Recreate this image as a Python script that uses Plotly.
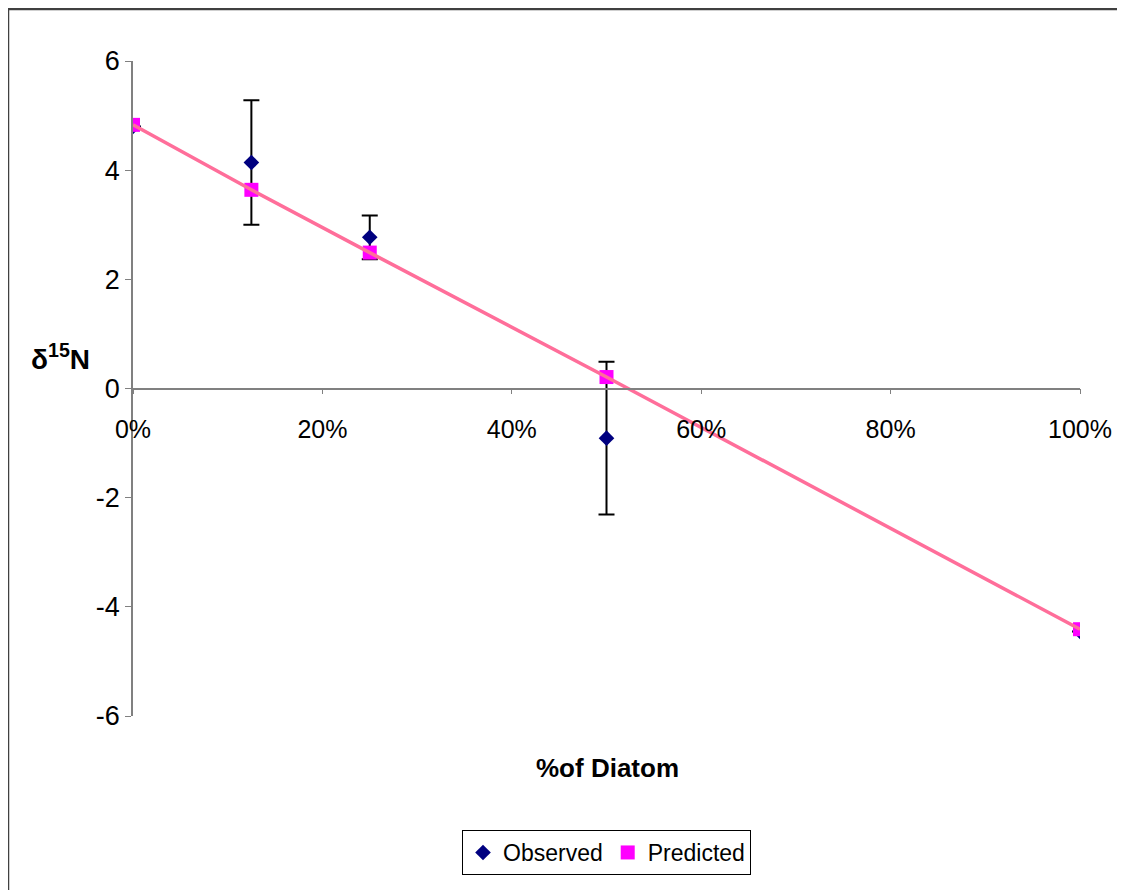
import plotly.graph_objects as go

# Data
diatom_frac = [0.0, 0.125, 0.25, 0.5, 1.0]
observed = [4.80, 4.14, 2.77, -0.91, -4.45]
observed_err = [0.0, 1.14, 0.40, 1.40, 0.0]
predicted = [4.83, 3.64, 2.49, 0.21, -4.41]
x_ticks = [0.0, 0.2, 0.4, 0.6, 0.8, 1.0]
y_ticks = [-6, -4, -2, 0, 2, 4, 6]
y_ticktext = ["-6", "-4", "-2", "0", "2", "4", "6"]

# page body has an 8px margin, so shift everything by 8px
OFF = 8
W, H = 1125 - OFF, 890 - OFF
L, R, T, B = 133 - OFF, 45, 61 - OFF, 174
pw, ph = W - L - R, H - T - B

def px_x(p):
    return (p - OFF - L) / pw

def px_y(p):
    return (H - B - (p - OFF)) / ph

FONT = "Liberation Sans, Arial, sans-serif"

fig = go.Figure()

fig.add_trace(go.Scatter(
    x=diatom_frac, y=observed, mode="markers", name="Observed",
    marker=dict(symbol="diamond", size=12, color="#000080"),
    error_y=dict(type="data", array=observed_err, visible=True,
                 color="black", thickness=2, width=8),
))
fig.add_trace(go.Scatter(
    x=diatom_frac, y=predicted, mode="markers", name="Predicted",
    marker=dict(symbol="square", size=14, color="#FF00FF"),
))
fig.add_trace(go.Scatter(
    x=diatom_frac, y=predicted, mode="lines", showlegend=False,
    line=dict(color="#FF6E9A", width=3.5),
))

fig.update_layout(
    width=W, height=H,
    margin=dict(l=L, r=R, t=T, b=B),
    paper_bgcolor="white", plot_bgcolor="white",
    font=dict(family=FONT, color="black", size=24),
    showlegend=True,
    legend=dict(
        orientation="h", x=0.5, xanchor="center", y=px_y(830), yanchor="top",
        bordercolor="black", borderwidth=1, bgcolor="white",
        font=dict(size=23, family=FONT), itemwidth=30,
        tracegroupgap=0,
    ),
    xaxis=dict(
        range=[0, 1], tickvals=x_ticks, tickformat=".0%",
        showgrid=False, zeroline=False,
        showline=True, linecolor="#808080", linewidth=1.5,
        ticks="outside", ticklen=5, tickcolor="#808080",
        anchor="free", position=0.5,
        tickfont=dict(size=25, family=FONT),
        ticklabelstandoff=14,
    ),
    yaxis=dict(
        range=[-6, 6], tickvals=y_ticks, ticktext=y_ticktext,
        showgrid=False, zeroline=False,
        showline=True, linecolor="#808080", linewidth=1.5,
        ticks="outside", ticklen=6, tickcolor="#808080",
        tickfont=dict(size=27, family=FONT),
    ),
    annotations=[
        dict(text="<b>δ<sup>15</sup>N</b>", xref="paper", yref="paper",
             x=px_x(60), y=px_y(357), showarrow=False,
             font=dict(size=28, family=FONT), xanchor="center", yanchor="middle"),
        dict(text="<b>%of Diatom</b>", xref="paper", yref="paper",
             x=px_x(607), y=px_y(768), showarrow=False,
             font=dict(size=26, family=FONT), xanchor="center", yanchor="middle"),
    ],
    shapes=[
        dict(type="line", xref="paper", yref="paper",
             x0=px_x(7), x1=px_x(1123), y0=px_y(9), y1=px_y(9),
             line=dict(color="#404040", width=2.5)),
        dict(type="line", xref="paper", yref="paper",
             x0=px_x(8), x1=px_x(8), y0=px_y(8), y1=px_y(900),
             line=dict(color="#404040", width=2.5)),
    ],
)

fig.write_html("out.html")
